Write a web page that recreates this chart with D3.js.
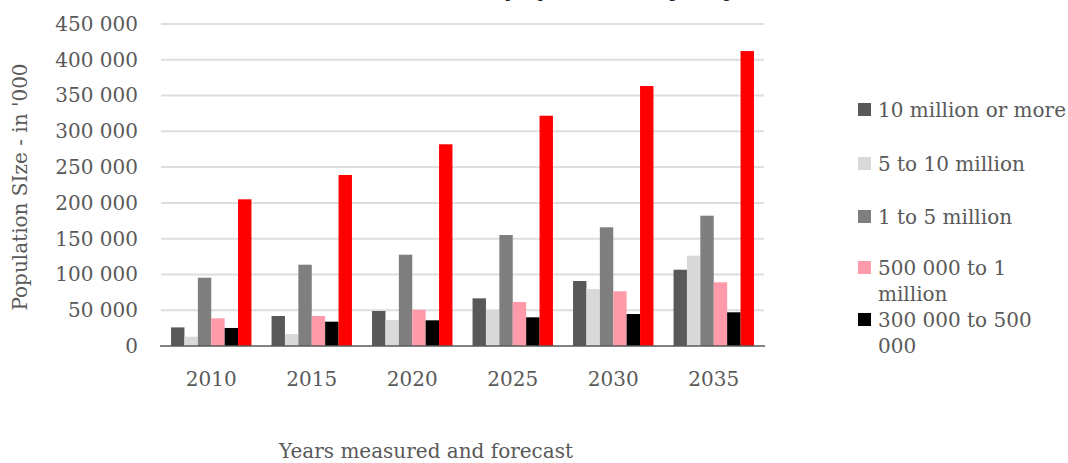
<!DOCTYPE html>
<html>
<head>
<meta charset="utf-8">
<script src="https://cdn.jsdelivr.net/npm/d3@7"></script>
<style>
  html, body { margin: 0; padding: 0; background: #fff; }
  svg { display: block; }
  text { font-family: "DejaVu Serif", serif; fill: #595959; }
</style>
</head>
<body>
<svg id="chart" width="1068" height="463"></svg>
<script>
// Years on the category axis
const years = ["2010", "2015", "2020", "2025", "2030", "2035"];

// City-size classes (series), population in thousands
const seriesNames = [
  "10 million or more",
  "5 to 10 million",
  "1 to 5 million",
  "500 000 to 1 million",
  "300 000 to 500 000",
  "Fewer than 300 000"
];
const megaCities   = [26000, 41900, 48900, 66600, 90800, 106600];
const largeCities  = [13000, 16800, 36300, 50300, 79600, 126200];
const mediumCities = [95400, 113600, 127600, 155100, 165900, 182100];
const smallCities  = [38700, 41900, 50700, 61500, 76400, 89000];
const townsUpper   = [25200, 34000, 35900, 40100, 44700, 47100];
const townsLower   = [205000, 239000, 281900, 321800, 363300, 412200];

const seriesValues = [megaCities, largeCities, mediumCities, smallCities, townsUpper, townsLower];
const seriesColors = ["#595959", "#d9d9d9", "#7f7f7f", "#ff9aaa", "#000000", "#ff0000"];

// Axis ticks
const yTicks = [0, 50000, 100000, 150000, 200000, 250000, 300000, 350000, 400000, 450000];

// Legend shows the first five classes
const legendLines = [
  ["10 million or more"],
  ["5 to 10 million"],
  ["1 to 5 million"],
  ["500 000 to 1", "million"],
  ["300 000 to 500", "000"]
];

const svg = d3.select("#chart");
const plot = { left: 161, right: 764, top: 24, bottom: 346 };

const x0 = d3.scaleBand().domain(years).range([plot.left, plot.right])
  .paddingInner(0.2).paddingOuter(0.1);
const x1 = d3.scaleBand().domain(d3.range(seriesNames.length)).range([0, x0.bandwidth()]);
const y = d3.scaleLinear().domain([0, 450000]).range([plot.bottom, plot.top]);

const fmt = v => d3.format(",")(v).replace(/,/g, " ");

// Chart title, placed above the top edge of the frame
svg.append("text")
  .attr("x", 605).attr("y", -5)
  .attr("text-anchor", "middle")
  .style("font-family", "'Open Sans', sans-serif")
  .style("font-weight", "bold")
  .style("font-size", "26px")
  .style("fill", "#222")
  .text("Urban population by city size");

// Horizontal gridlines
svg.append("g").selectAll("line")
  .data(yTicks.filter(d => d > 0))
  .join("line")
  .attr("x1", plot.left).attr("x2", plot.right)
  .attr("y1", d => y(d)).attr("y2", d => y(d))
  .attr("stroke", "#dedede").attr("stroke-width", 2);

// Y axis labels
const yAxis = svg.append("g")
  .attr("transform", `translate(${plot.left - 4},0)`)
  .call(d3.axisLeft(y).tickValues(yTicks).tickFormat(fmt).tickSize(0).tickPadding(19));
yAxis.select(".domain").remove();
yAxis.selectAll("text")
  .style("font-family", "'DejaVu Serif', serif")
  .style("font-size", "20px")
  .style("fill", "#595959");

// Bars
const groups = svg.append("g").selectAll("g")
  .data(years)
  .join("g")
  .attr("transform", d => `translate(${x0(d)},0)`);

groups.selectAll("rect")
  .data((yr, i) => seriesValues.map((vals, s) => ({ s, v: vals[i] })))
  .join("rect")
  .attr("x", d => x1(d.s))
  .attr("width", x1.bandwidth())
  .attr("y", d => y(d.v))
  .attr("height", d => y(0) - y(d.v))
  .attr("fill", d => seriesColors[d.s]);

// Baseline
svg.append("line")
  .attr("x1", plot.left - 1).attr("x2", plot.right + 1)
  .attr("y1", y(0)).attr("y2", y(0))
  .attr("stroke", "#595959").attr("stroke-width", 1.5);

// X axis labels
const xAxis = svg.append("g")
  .attr("transform", `translate(0,${y(0)})`)
  .call(d3.axisBottom(x0).tickSize(0).tickPadding(26));
xAxis.select(".domain").remove();
xAxis.selectAll("text")
  .style("font-family", "'DejaVu Serif', serif")
  .style("font-size", "20px")
  .style("fill", "#595959");

// Axis titles
svg.append("text")
  .attr("x", 426).attr("y", 458)
  .attr("text-anchor", "middle")
  .style("font-size", "20px")
  .text("Years measured and forecast");

svg.append("text")
  .attr("transform", "translate(27,187) rotate(-90)")
  .attr("text-anchor", "middle")
  .style("font-size", "20px")
  .text("Population SIze  - in '000");

// Legend
const legendRows = [110, 164, 217, 268, 320];
const legend = svg.append("g").selectAll("g")
  .data(legendLines)
  .join("g")
  .attr("transform", (d, i) => `translate(858,${legendRows[i]})`);

legend.append("rect")
  .attr("x", 0).attr("y", -7)
  .attr("width", 13).attr("height", 13)
  .attr("fill", (d, i) => seriesColors[i]);

legend.append("text")
  .attr("x", 20).attr("y", 7)
  .style("font-size", "20px")
  .selectAll("tspan")
  .data(d => d)
  .join("tspan")
  .attr("x", 20)
  .attr("dy", (d, i) => i === 0 ? 0 : 26)
  .text(d => d);
</script>
</body>
</html>
